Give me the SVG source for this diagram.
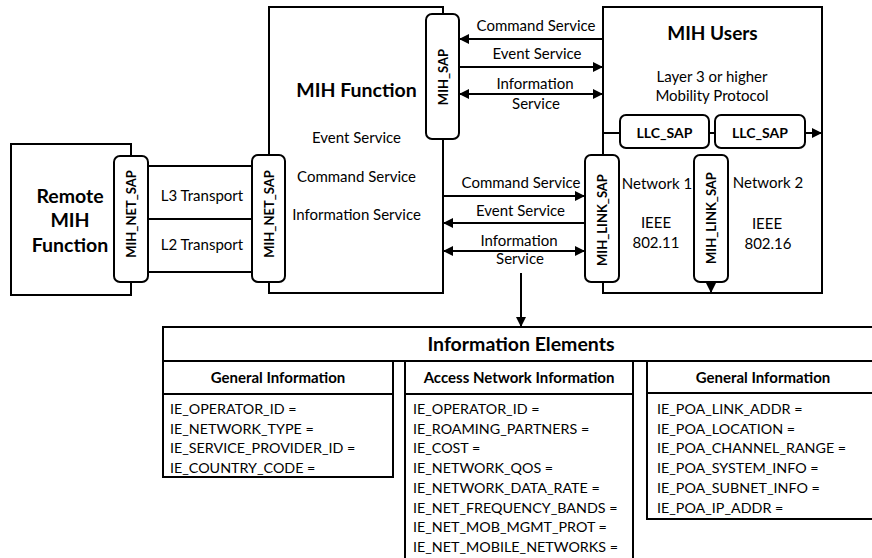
<svg xmlns="http://www.w3.org/2000/svg" width="872" height="558" viewBox="0 0 872 558">
  <style>
    .box { fill: #fff; stroke: #000; stroke-width: 2; }
    .sap { fill: #fff; stroke: #000; stroke-width: 2; }
    .ln { fill: none; stroke: #000; stroke-width: 2; }
    .arr { fill: none; stroke: #000; stroke-width: 2; marker-end: url(#ah); }
    .arr2 { fill: none; stroke: #000; stroke-width: 2; marker-start: url(#ah); marker-end: url(#ah); }
    text { font-family: Lato, "Liberation Sans", sans-serif; fill: #000; }
    .t { font-size: 15px; text-anchor: middle; }
    .title { font-size: 19.5px; font-weight: bold; text-anchor: middle; }
    .saplbl { font-size: 13px; font-weight: bold; text-anchor: middle; dominant-baseline: central; }
    .llc { font-size: 14px; }
    .hdr { font-size: 15px; font-weight: bold; text-anchor: middle; }
    .ie { font-size: 14.3px; }
  </style>
  <defs>
    <marker id="ah" viewBox="0 0 10 10" refX="10" refY="5" markerWidth="10" markerHeight="10" markerUnits="userSpaceOnUse" orient="auto-start-reverse">
      <path d="M0,0 L10,5 L0,10 z" fill="#000"/>
    </marker>
  </defs>

  <!-- Remote MIH Function -->
  <g id="remote-mih">
    <rect class="box" x="11" y="144" width="120" height="151"/>
    <text class="title" x="70" y="203">Remote</text>
    <text class="title" x="70" y="227">MIH</text>
    <text class="title" x="70" y="252">Function</text>
  </g>

  <!-- MIH Function -->
  <g id="mih-function">
    <rect class="box" x="269" y="7" width="174" height="286"/>
    <text class="title" x="356.5" y="97">MIH Function</text>
    <text class="t" x="356.5" y="142.5">Event Service</text>
    <text class="t" x="356.5" y="181.5">Command Service</text>
    <text class="t" x="356.5" y="219.5">Information Service</text>
  </g>

  <!-- MIH Users -->
  <g id="mih-users">
    <rect class="box" x="603" y="7" width="219" height="286"/>
    <text class="title" x="712.5" y="40" style="font-size:19px">MIH Users</text>
    <text class="t" x="712" y="81.5">Layer 3 or higher</text>
    <text class="t" x="712" y="100.5">Mobility Protocol</text>
    <text class="t" x="657" y="188.5">Network 1</text>
    <text class="t" x="656" y="227.5">IEEE</text>
    <text class="t" x="656" y="247.5">802.11</text>
    <text class="t" x="768" y="188">Network 2</text>
    <text class="t" x="767" y="228.5">IEEE</text>
    <text class="t" x="768" y="248.5">802.16</text>
  </g>

  <!-- Connectors -->
  <g id="connectors">
    <!-- transport links between the two MIH_NET_SAPs -->
    <path class="ln" d="M148,166 H252 M148,219 H252 M148,272 H252"/>
    <text class="t" x="202" y="200.5">L3 Transport</text>
    <text class="t" x="202" y="249.5">L2 Transport</text>
    <!-- MIH_SAP to MIH Users -->
    <line class="arr" x1="603" y1="39" x2="459" y2="39"/>
    <line class="arr" x1="459" y1="67" x2="603" y2="67"/>
    <line class="arr2" x1="459" y1="94" x2="603" y2="94"/>
    <text class="t" x="536" y="30.5">Command Service</text>
    <text class="t" x="537" y="58.5">Event Service</text>
    <text class="t" x="535" y="88.5">Information</text>
    <text class="t" x="536" y="108.5">Service</text>
    <!-- MIH Function to MIH_LINK_SAP -->
    <line class="arr" x1="443" y1="196" x2="585" y2="196"/>
    <line class="arr" x1="585" y1="223" x2="443" y2="223"/>
    <line class="arr2" x1="443" y1="251" x2="585" y2="251"/>
    <text class="t" x="521" y="187.5">Command Service</text>
    <text class="t" x="520.5" y="215.5">Event Service</text>
    <text class="t" x="519" y="245.5">Information</text>
    <text class="t" x="520" y="263.5">Service</text>
    <!-- information service to the element table -->
    <line class="arr" x1="521" y1="273" x2="521" y2="327"/>
    <!-- LLC_SAP chain -->
    <path class="ln" d="M603,133 H620 M709,133 H715"/>
    <line class="arr" x1="805" y1="133" x2="822" y2="133"/>
    <line class="arr" x1="711" y1="282" x2="711" y2="293"/>
  </g>

  <!-- Service access points -->
  <g id="mih-net-sap-remote">
    <rect class="sap" x="114" y="156" width="34" height="126" rx="6"/>
    <text class="saplbl" transform="translate(131,214) rotate(-90)">MIH_NET_SAP</text>
  </g>
  <g id="mih-net-sap-local">
    <rect class="sap" x="252" y="155" width="33" height="127" rx="6"/>
    <text class="saplbl" transform="translate(268.5,214) rotate(-90)">MIH_NET_SAP</text>
  </g>
  <g id="mih-sap">
    <rect class="sap" x="426" y="14" width="33" height="125" rx="6"/>
    <text class="saplbl" transform="translate(442.5,77) rotate(-90)">MIH_SAP</text>
  </g>
  <g id="mih-link-sap-1">
    <rect class="sap" x="585" y="155" width="34" height="127" rx="6"/>
    <text class="saplbl" transform="translate(602,220) rotate(-90)">MIH_LINK_SAP</text>
  </g>
  <g id="mih-link-sap-2">
    <rect class="sap" x="694" y="155" width="34" height="127" rx="6"/>
    <text class="saplbl" transform="translate(711,218) rotate(-90)">MIH_LINK_SAP</text>
  </g>
  <g id="llc-sap-1">
    <rect class="sap" x="620" y="115" width="89" height="33" rx="6"/>
    <text class="saplbl llc" x="664.5" y="132">LLC_SAP</text>
  </g>
  <g id="llc-sap-2">
    <rect class="sap" x="715" y="115" width="90" height="33" rx="6"/>
    <text class="saplbl llc" x="760" y="132">LLC_SAP</text>
  </g>

  <!-- Information Elements table -->
  <g id="information-elements">
    <rect class="box" x="163" y="327" width="720" height="34"/>
    <text class="title" x="521" y="351">Information Elements</text>
  </g>
  <g id="general-information">
    <rect class="box" x="163" y="361" width="230" height="116"/>
    <line class="ln" x1="163" y1="394" x2="393" y2="394"/>
    <text class="hdr" x="278" y="383">General Information</text>
    <text class="ie" x="170" y="414">IE_OPERATOR_ID =</text>
    <text class="ie" x="170" y="433.7">IE_NETWORK_TYPE =</text>
    <text class="ie" x="170" y="453.4">IE_SERVICE_PROVIDER_ID =</text>
    <text class="ie" x="170" y="473.1">IE_COUNTRY_CODE =</text>
  </g>
  <g id="access-network-information">
    <rect class="box" x="405" y="361" width="228" height="205"/>
    <line class="ln" x1="405" y1="394" x2="633" y2="394"/>
    <text class="hdr" x="519" y="383">Access Network Information</text>
    <text class="ie" x="413" y="414">IE_OPERATOR_ID =</text>
    <text class="ie" x="413" y="433.7">IE_ROAMING_PARTNERS =</text>
    <text class="ie" x="413" y="453.4">IE_COST =</text>
    <text class="ie" x="413" y="473.1">IE_NETWORK_QOS =</text>
    <text class="ie" x="413" y="492.8">IE_NETWORK_DATA_RATE =</text>
    <text class="ie" x="413" y="512.5">IE_NET_FREQUENCY_BANDS =</text>
    <text class="ie" x="413" y="532.2">IE_NET_MOB_MGMT_PROT =</text>
    <text class="ie" x="413" y="551.9">IE_NET_MOBILE_NETWORKS =</text>
  </g>
  <g id="poa-information">
    <rect class="box" x="647" y="361" width="236" height="158"/>
    <line class="ln" x1="647" y1="393" x2="883" y2="393"/>
    <text class="hdr" x="763" y="383">General Information</text>
    <text class="ie" x="657" y="414">IE_POA_LINK_ADDR =</text>
    <text class="ie" x="657" y="433.7">IE_POA_LOCATION =</text>
    <text class="ie" x="657" y="453.4">IE_POA_CHANNEL_RANGE =</text>
    <text class="ie" x="657" y="473.1">IE_POA_SYSTEM_INFO =</text>
    <text class="ie" x="657" y="492.8">IE_POA_SUBNET_INFO =</text>
    <text class="ie" x="657" y="512.5">IE_POA_IP_ADDR =</text>
  </g>
</svg>
